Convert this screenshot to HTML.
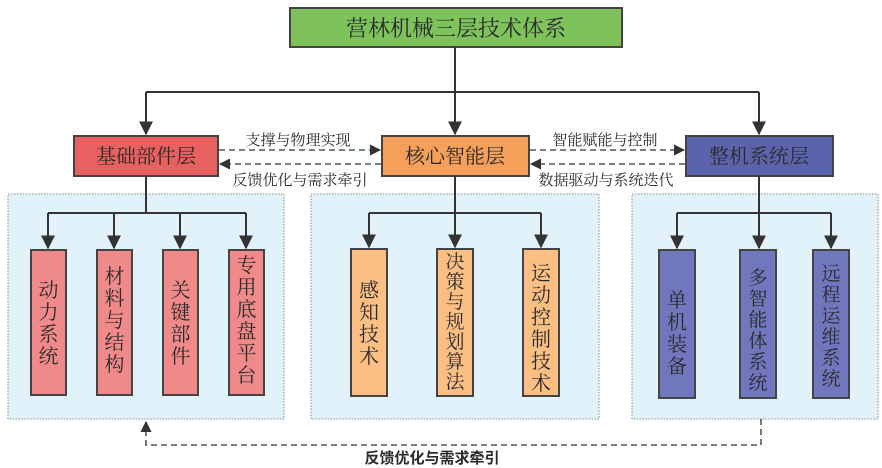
<!DOCTYPE html>
<html><head><meta charset="utf-8"><style>
html,body{margin:0;padding:0;background:#fff;}
svg{display:block;}
text{font-family:"Noto Serif CJK SC","Liberation Serif",serif;fill:#2a2a2a;}
.b{font-family:"Liberation Sans","Noto Sans CJK SC",sans-serif;font-weight:bold;}
</style></head><body>
<svg width="882" height="468" viewBox="0 0 882 468" xmlns="http://www.w3.org/2000/svg">
<defs>
<marker id="a" viewBox="0 0 10 10" refX="9" refY="5" markerWidth="7" markerHeight="7" orient="auto"><path d="M0,0 L10,5 L0,10 z" fill="#333"/></marker>
</defs>
<g fill="#e2f2fa" stroke="#888" stroke-dasharray="1.5,1.5" stroke-width="1">
<rect x="8" y="194" width="276" height="225"/>
<rect x="311" y="194" width="288" height="225"/>
<rect x="632" y="194" width="246" height="225"/>
</g>
<rect x="290" y="8" width="332" height="39" fill="#7dc25b" stroke="#444" stroke-width="2"/>
<text x="456" y="36" font-size="22" text-anchor="middle">营林机械三层技术体系</text>
<g stroke="#333" stroke-width="2" fill="none">
<path d="M455,47 V134" marker-end="url(#a)"/>
<path d="M146,92 H759"/>
<path d="M146,92 V134" marker-end="url(#a)"/>
<path d="M759,92 V134" marker-end="url(#a)"/>
</g>
<rect x="74" y="136" width="144" height="40" fill="#e8605f" stroke="#444" stroke-width="2"/>
<text x="146" y="163" font-size="20" text-anchor="middle">基础部件层</text>
<rect x="382" y="136" width="147" height="40" fill="#f5a05a" stroke="#444" stroke-width="2"/>
<text x="455" y="163" font-size="20" text-anchor="middle">核心智能层</text>
<rect x="686" y="136" width="147" height="40" fill="#5c63ad" stroke="#444" stroke-width="2"/>
<text x="759" y="163" font-size="20" text-anchor="middle">整机系统层</text>
<g stroke="#555" stroke-width="1.6" stroke-dasharray="6,4" fill="none">
<path d="M219,150 H380" marker-end="url(#a)"/>
<path d="M381,164 H220" marker-end="url(#a)"/>
<path d="M530,150 H684" marker-end="url(#a)"/>
<path d="M685,164 H531" marker-end="url(#a)"/>
</g>
<text x="298" y="145" font-size="15" text-anchor="middle">支撑与物理实现</text>
<text x="300" y="185" font-size="15" text-anchor="middle">反馈优化与需求牵引</text>
<text x="605" y="145" font-size="15" text-anchor="middle">智能赋能与控制</text>
<text x="606" y="185" font-size="15" text-anchor="middle">数据驱动与系统迭代</text>
<g stroke="#333" stroke-width="2" fill="none">
<path d="M146,176 V213"/><path d="M48,213 H246"/>
<path d="M48,213 V248" marker-end="url(#a)"/><path d="M114,213 V248" marker-end="url(#a)"/>
<path d="M180,213 V248" marker-end="url(#a)"/><path d="M246,213 V248" marker-end="url(#a)"/>
<path d="M455,176 V247" marker-end="url(#a)"/><path d="M369,213 H541"/>
<path d="M369,213 V247" marker-end="url(#a)"/><path d="M541,213 V247" marker-end="url(#a)"/>
<path d="M759,176 V248" marker-end="url(#a)"/><path d="M677,213 H831"/>
<path d="M677,213 V248" marker-end="url(#a)"/><path d="M831,213 V248" marker-end="url(#a)"/>
</g>
<g stroke="#444" stroke-width="2">
<rect x="31" y="250" width="35" height="145" fill="#f08a8a"/>
<rect x="97" y="250" width="35" height="145" fill="#f08a8a"/>
<rect x="163" y="250" width="35" height="145" fill="#f08a8a"/>
<rect x="229" y="250" width="35" height="145" fill="#f08a8a"/>
<rect x="351" y="249" width="36" height="147" fill="#fbbf84"/>
<rect x="437" y="249" width="36" height="147" fill="#fbbf84"/>
<rect x="523" y="249" width="36" height="147" fill="#fbbf84"/>
<rect x="659" y="250" width="36" height="148" fill="#7177bd"/>
<rect x="740" y="250" width="36" height="148" fill="#7177bd"/>
<rect x="813" y="250" width="36" height="148" fill="#7177bd"/>
</g>
<g font-size="20" text-anchor="middle">
<text x="48.5" y="297">动</text><text x="48.5" y="319">力</text><text x="48.5" y="341">系</text><text x="48.5" y="363">统</text>
<text x="114.5" y="283">材</text><text x="114.5" y="305">料</text><text x="114.5" y="327">与</text><text x="114.5" y="349">结</text><text x="114.5" y="371">构</text>
<text x="180.5" y="297">关</text><text x="180.5" y="319">键</text><text x="180.5" y="341">部</text><text x="180.5" y="363">件</text>
<text x="246.5" y="272">专</text><text x="246.5" y="294">用</text><text x="246.5" y="316">底</text><text x="246.5" y="338">盘</text><text x="246.5" y="360">平</text><text x="246.5" y="382">台</text>
<text x="369" y="297">感</text><text x="369" y="319">知</text><text x="369" y="341">技</text><text x="369" y="363">术</text>
<text x="541" y="280">运</text><text x="541" y="302">动</text><text x="541" y="324">控</text><text x="541" y="346">制</text><text x="541" y="368">技</text><text x="541" y="390">术</text>
<text x="677" y="307">单</text><text x="677" y="329">机</text><text x="677" y="351">装</text><text x="677" y="373">备</text>
</g>
<g font-size="19" text-anchor="middle">
<text x="455" y="268">决</text><text x="455" y="288">策</text><text x="455" y="308">与</text><text x="455" y="328">规</text><text x="455" y="348">划</text><text x="455" y="368">算</text><text x="455" y="388">法</text>
<text x="758" y="284">多</text><text x="758" y="305">智</text><text x="758" y="326">能</text><text x="758" y="347">体</text><text x="758" y="368">系</text><text x="758" y="389">统</text>
<text x="831" y="280">远</text><text x="831" y="301">程</text><text x="831" y="322">运</text><text x="831" y="343">维</text><text x="831" y="364">系</text><text x="831" y="385">统</text>
</g>
<path d="M761,419 V445 H146 V422" stroke="#555" stroke-width="1.6" stroke-dasharray="6,4" fill="none" marker-end="url(#a)"/>
<text class="b" x="432" y="463" font-size="15" text-anchor="middle">反馈优化与需求牵引</text>
</svg>
</body></html>
